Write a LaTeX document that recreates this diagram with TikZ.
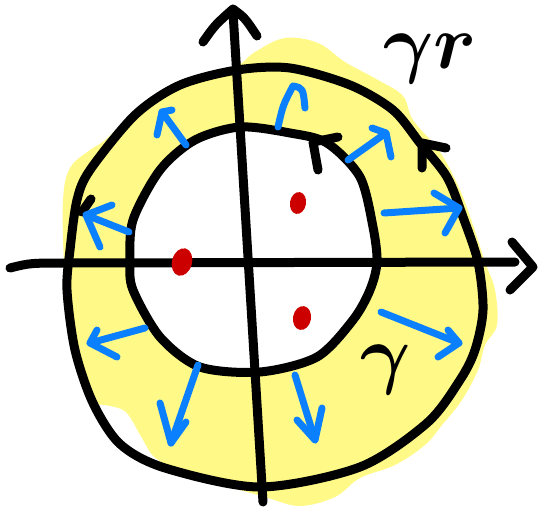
\documentclass[tikz,border=0pt]{standalone}
\usepackage{amsmath}
\usepackage{tikz}
\usetikzlibrary{calc}
\definecolor{hlyellow}{RGB}{255,250,135}
\definecolor{penblue}{RGB}{10,128,255}
\definecolor{penred}{RGB}{205,0,0}

\begin{document}
\begin{tikzpicture}[x=1pt, y=-1pt,
  pen/.style={line width=9pt, line cap=round, line join=round},
  flow/.style={pen, line width=7pt, penblue},
  pole/.style={penred},
  lbl/.style={font=\Huge\boldmath, scale=3.1, inner sep=0pt}]
 \useasboundingbox (0,0) rectangle (539,509);

 % highlighted annulus
 \fill[hlyellow] plot[smooth cycle, tension=0.6] coordinates {(233,68) (255,52) (285,38) (318,43) (345,62) (378,80) (403,96) (413,120) (440,152) (460,190) (473,225) (485,262) (495,290) (497,325) (485,345) (478,370) (462,400) (442,425) (425,445) (395,465) (360,478) (335,497) (300,506) (268,498) (240,490) (200,480) (165,465) (130,448) (100,415) (80,370) (68,320) (64,265) (63,200) (70,168) (90,150) (105,140) (140,108) (180,84)};
 \fill[white] plot[smooth cycle] coordinates {(88,405) (123,410) (140,435) (152,455) (170,470) (125,460) (95,425)};
 \fill[white] plot[smooth cycle] coordinates {(240,127) (290,133) (327,143) (360,177) (373,227) (377,262) (370,290) (353,320) (317,357) (260,372) (200,367) (160,337) (133,290) (130,262) (133,220) (160,170) (195,140)};

 % contours
 \draw[pen] plot[smooth cycle] coordinates {(237,70) (290,68) (350,85) (393,110) (420,143) (447,177) (463,217) (478,262) (483,310) (475,350) (460,380) (427,423) (360,467) (260,487) (165,468) (120,444) (93,403) (75,350) (67,290) (70,250) (77,200) (90,170) (135,115) (180,85)};
 \draw[pen] plot[smooth cycle] coordinates {(240,127) (290,133) (327,143) (360,177) (373,227) (377,262) (370,290) (353,320) (317,357) (260,372) (200,367) (160,337) (133,290) (130,262) (133,220) (160,170) (195,140)};
 \draw[pen] (338,137) -- (313,142) -- (318,170);
 \draw[pen] (446,148) -- (422,143) -- (422,168);
 \draw[pen] (91,199) -- (82,212);

 % axes
 \draw[pen] (10,268) .. controls (30,263) .. (70,263) -- (515,262);
 \draw[pen] (512,242) -- (533,267) -- (510,290);
 \draw[pen] (263,502) -- (233,12);
 \draw[pen] (203,42) .. controls (215,25) .. (233,9) .. controls (245,18) .. (257,36);

 % outward arrows
 \draw[flow] (278,127) .. controls (283,105) .. (293,86) .. controls (303,88) .. (305,108);
 \foreach \tx/\ty/\hx/\hy/\ax/\ay/\bx/\by in {
   186/145/162/112/157/135/172/110,
   348/160/386/133/372/128/391/157,
   384/213/459/208/434/193/445/233,
   129/232/86/215/112/205/100/247,
   381/312/459/343/448/330/438/357,
   145/328/90/343/97/330/117/357,
   198/365/171/443/160/403/186/422,
   295/375/315/440/297/420/322/408}
 {
   \draw[flow] (\tx,\ty) -- (\hx,\hy);
   \draw[flow] (\ax,\ay) -- (\hx,\hy) -- (\bx,\by);
 }

 % singularities
 \fill[pole, rotate around={-10:(298,203)}] (298,203) ellipse [x radius=8pt, y radius=11pt];
 \fill[pole, rotate around={-15:(182,262)}] (182,262) ellipse [x radius=10pt, y radius=14pt];
 \fill[pole, rotate around={-10:(302,318)}] (302,318) ellipse [x radius=9pt, y radius=12pt];

 % labels
 \node (gammar) [lbl, anchor=base west] at (383,68) {$\gamma r$};
 \node (gamma) [lbl] at (386,370) {$\gamma$};
\end{tikzpicture}
\end{document}
